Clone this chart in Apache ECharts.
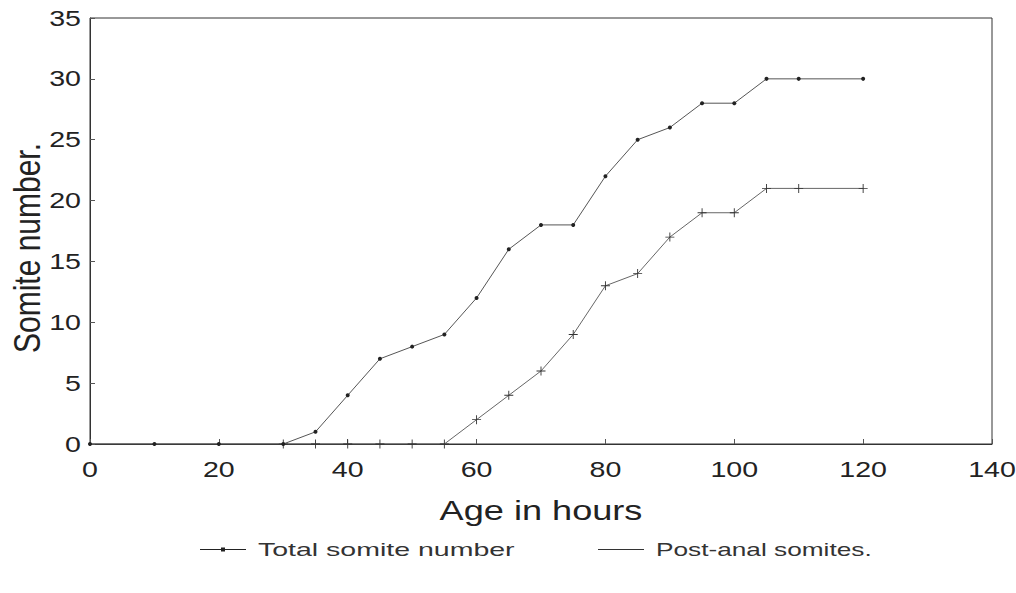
<!DOCTYPE html>
<html>
<head>
<meta charset="utf-8">
<script src="https://cdn.jsdelivr.net/npm/echarts@6/dist/echarts.min.js"></script>
<style>html,body{margin:0;padding:0;background:#fff;}#c{width:1016px;height:593px;}</style>
</head>
<body>
<div id="c"></div>
<script>
var totalHours = [0, 10, 20, 30, 35, 40, 45, 50, 55, 60, 65, 70, 75, 80, 85, 90, 95, 100, 105, 110, 120];
var totalSomites = [0, 0, 0, 0, 1, 4, 7, 8, 9, 12, 16, 18, 18, 22, 25, 26, 28, 28, 30, 30, 30];
var postHours = [30, 35, 40, 45, 50, 55, 60, 65, 70, 75, 80, 85, 90, 95, 100, 105, 110, 120];
var postSomites = [0, 0, 0, 0, 0, 0, 2, 4, 6, 9, 13, 14, 17, 19, 19, 21, 21, 21];
var xTicks = [0, 20, 40, 60, 80, 100, 120, 140];
var yTicks = [0, 5, 10, 15, 20, 25, 30, 35];
var seriesNames = ['Total somite number', 'Post-anal somites.'];
var xName = 'Age in hours';
var yName = 'Somite number.';

function pairs(xs, ys) { return xs.map(function (x, i) { return [x, ys[i]]; }); }

var plus = 'path://M0,4.5h10v1h-10zM4.5,0h1v10h-1z';
var font = 'Liberation Sans, Arial, sans-serif';
var legendText = {fontFamily: font, fontSize: 19, color: '#333', padding: [0, 0, 0, 7]};
var chart = echarts.init(document.getElementById('c'), null, {renderer: 'svg'});
chart.setOption({
  backgroundColor: '#fff',
  animation: false,
  grid: {left: 90, right: 24, top: 18, bottom: 149, show: true, borderColor: '#333', borderWidth: 1},
  legend: [
    {left: 200, top: 540, padding: 0, itemWidth: 46, itemHeight: 20, textStyle: legendText,
     data: [{name: seriesNames[0], icon: 'path://M0,9.5h46v1h-46zM21,8h4v4h-4z'}]},
    {left: 598, top: 540, padding: 0, itemWidth: 46, itemHeight: 20, textStyle: legendText,
     data: [{name: seriesNames[1], icon: 'path://M0,9.5h46v1h-46z'}]}
  ],
  graphic: [{
    type: 'text', x: 27, y: 248, rotation: Math.PI / 2, scaleY: 1.25,
    style: {text: yName, fontFamily: font, fontSize: 30, fill: '#222', align: 'center', verticalAlign: 'middle'}
  }],
  xAxis: {
    type: 'value', min: xTicks[0], max: xTicks[xTicks.length - 1], interval: 20,
    name: xName, nameLocation: 'middle', nameGap: 52,
    nameTextStyle: {fontFamily: font, fontSize: 28, color: '#222'},
    axisLine: {lineStyle: {color: '#333', width: 1}},
    axisTick: {inside: true, length: 5, lineStyle: {color: '#555'}},
    axisLabel: {fontFamily: font, fontSize: 22, color: '#222', margin: 14},
    splitLine: {show: false}
  },
  yAxis: {
    type: 'value', min: yTicks[0], max: yTicks[yTicks.length - 1], interval: 5,
    axisLine: {show: true, lineStyle: {color: '#333', width: 1}},
    axisTick: {inside: true, length: 5, lineStyle: {color: '#555'}},
    axisLabel: {fontFamily: font, fontSize: 22, color: '#222', margin: 9},
    splitLine: {show: false}
  },
  series: [
    {
      name: seriesNames[0], type: 'line', data: pairs(totalHours, totalSomites),
      symbol: 'circle', symbolSize: 4, showAllSymbol: true,
      lineStyle: {color: '#555', width: 1}, itemStyle: {color: '#222'}, z: 3
    },
    {
      name: seriesNames[1], type: 'line', data: pairs(postHours, postSomites),
      symbol: plus, symbolSize: 9, showAllSymbol: true,
      lineStyle: {color: '#666', width: 1}, itemStyle: {color: '#333'}, z: 2
    }
  ]
});

// The reference's lettering is horizontally widened; stretch the text the same way.
function widenText() {
  var svg = document.querySelector('#c svg');
  if (!svg) return;
  svg.querySelectorAll('text').forEach(function (t) {
    if (t.getAttribute('data-w')) return;
    var s = t.textContent;
    var f = 1;
    if (s === seriesNames[0]) f = 1.5;
    else if (s === seriesNames[1]) f = 1.38;
    else if (s === xName) f = 1.29;
    else if (/^\d+$/.test(s)) f = 1.3;
    if (f === 1) return;
    var w = t.getComputedTextLength();
    t.setAttribute('textLength', (w * f).toFixed(1));
    t.setAttribute('lengthAdjust', 'spacingAndGlyphs');
    t.setAttribute('data-w', '1');
  });
}
chart.getZr().flush();
widenText();
chart.on('finished', widenText);
</script>
</body>
</html>
